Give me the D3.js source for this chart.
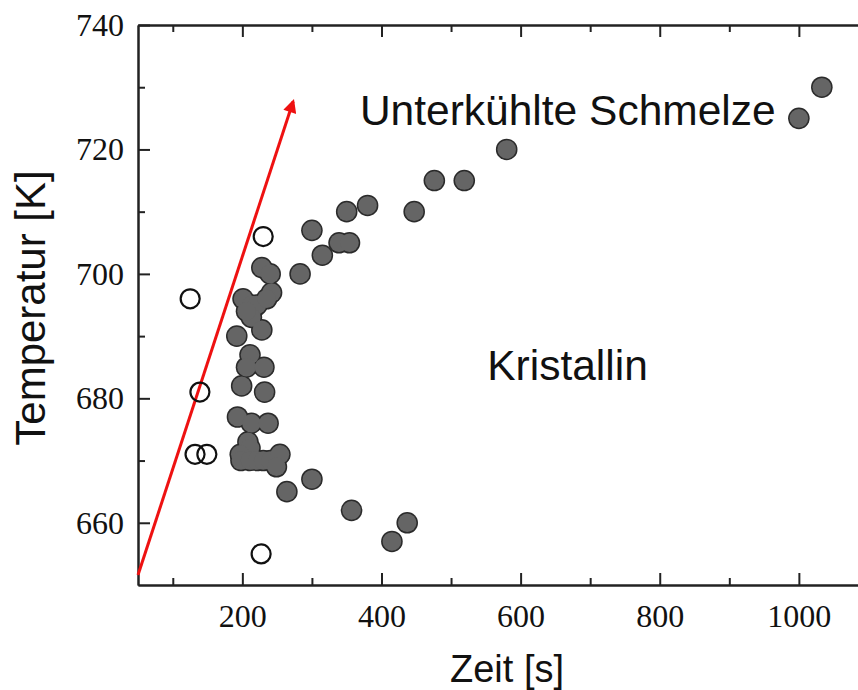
<!DOCTYPE html>
<html>
<head>
<meta charset="utf-8">
<script src="https://cdn.jsdelivr.net/npm/d3@7"></script>
<style>
  body { margin: 0; background: #fff; }
  svg { display: block; }
</style>
</head>
<body>
<div id="chart"></div>
<script>
// Messwerte: Zeit [s], Temperatur [K]
var filled_points = [
    [228,701],[240,700],[242,697],[201,696],[213,695],[221,695],[235,696],[213,693],
    [206,694],[192,690],[228,691],[211,687],[206,685],[231,685],[199,682],[232,681],
    [193,677],[213,676],[237,676],[208,673],[211,672],[197,671],[198,670],[211,670],
    [221,670],[230,670],[240,670],[254,671],[249,669],[264,665],[300,667],[357,662],
    [437,660],[415,657],[283,700],[300,707],[315,703],[339,705],[354,705],[350,710],
    [380,711],[447,710],[476,715],[519,715],[580,720],[1000,725],[1033,730]
];
var open_points = [[230,706],[125,696],[139,681],[132,671],[149,671],[227,655]];

var x_major = [200, 400, 600, 800, 1000];
var x_minor = [100, 300, 500, 700, 900];
var y_major = [660, 680, 700, 720, 740];
var y_minor = [670, 690, 710, 730];

// Pfeil (Start, Spitze) in Datenkoordinaten
var arrow_start = [50, 651.6];
var arrow_end = [273, 727.7];

var labels = [
    {text: "Unterkühlte Schmelze", x: 369, y: 723.9},
    {text: "Kristallin", x: 552, y: 683}
];

var width = 858, height = 690;
var margin = {top: 25, right: 0, bottom: 105, left: 138};

var svg = d3.select("#chart")
    .append("svg")
    .attr("width", width)
    .attr("height", height);

var xScale = d3.scaleLinear()
    .domain([50, 1085])
    .range([margin.left, width - margin.right]);
var yScale = d3.scaleLinear()
    .domain([650, 740])
    .range([height - margin.bottom, margin.top]);

var serif = "'Liberation Serif', 'Times New Roman', serif";
var sans = "'Liberation Sans', Arial, sans-serif";
var fmt = d3.format("d");

// Achsen mit nach innen zeigenden Ticks
function style_axis(g) {
    g.select(".domain").attr("stroke", "#222").attr("stroke-width", 2);
    g.selectAll(".tick line").attr("stroke", "#222").attr("stroke-width", 2);
}

var bottom_y = yScale(650);
svg.append("g")
    .attr("transform", "translate(0," + bottom_y + ")")
    .call(d3.axisBottom(xScale).tickValues(x_major).tickFormat(fmt).tickSize(-12).tickPadding(19).tickSizeOuter(0))
    .call(style_axis)
    .selectAll("text")
    .attr("font-family", serif).attr("font-size", 32).attr("fill", "#111")
    .attr("dy", "0.71em");
svg.append("g")
    .attr("transform", "translate(0," + bottom_y + ")")
    .call(d3.axisBottom(xScale).tickValues(x_minor).tickSize(-7).tickFormat("").tickSizeOuter(0))
    .call(style_axis);

svg.append("g")
    .attr("transform", "translate(0," + yScale(740) + ")")
    .call(d3.axisTop(xScale).tickValues(x_major).tickSize(-12).tickFormat("").tickSizeOuter(0))
    .call(style_axis);
svg.append("g")
    .attr("transform", "translate(0," + yScale(740) + ")")
    .call(d3.axisTop(xScale).tickValues(x_minor).tickSize(-7).tickFormat("").tickSizeOuter(0))
    .call(style_axis);

svg.append("g")
    .attr("transform", "translate(" + xScale(50) + ",0)")
    .call(d3.axisLeft(yScale).tickValues(y_major).tickFormat(fmt).tickSize(-12).tickPadding(14).tickSizeOuter(0))
    .call(style_axis)
    .selectAll("text")
    .attr("font-family", serif).attr("font-size", 32).attr("fill", "#111");
svg.append("g")
    .attr("transform", "translate(" + xScale(50) + ",0)")
    .call(d3.axisLeft(yScale).tickValues(y_minor).tickSize(-7).tickFormat("").tickSizeOuter(0))
    .call(style_axis);

// Achsentitel
svg.append("text")
    .attr("x", 507)
    .attr("y", 682)
    .attr("text-anchor", "middle")
    .attr("font-family", sans)
    .attr("font-size", 38)
    .attr("fill", "#111")
    .text("Zeit [s]");

svg.append("text")
    .attr("transform", "translate(45," + 308 + ") rotate(-90)")
    .attr("text-anchor", "middle")
    .attr("font-family", sans)
    .attr("font-size", 42)
    .attr("fill", "#111")
    .text("Temperatur [K]");

// gefüllte Punkte: erst Rand, dann Füllung -> verschmolzene Umrisse
var pts = svg.append("g");
pts.selectAll(".outline")
    .data(filled_points)
    .enter()
    .append("circle")
    .attr("class", "outline")
    .attr("cx", function(d){ return xScale(d[0]); })
    .attr("cy", function(d){ return yScale(d[1]); })
    .attr("r", 10.8)
    .attr("fill", "#2b2b2b");
pts.selectAll(".fill")
    .data(filled_points)
    .enter()
    .append("circle")
    .attr("class", "fill")
    .attr("cx", function(d){ return xScale(d[0]); })
    .attr("cy", function(d){ return yScale(d[1]); })
    .attr("r", 9.3)
    .attr("fill", "#656565");

// Pfeil
svg.append("defs")
    .append("marker")
    .attr("id", "arrowhead")
    .attr("viewBox", "0 0 10 10")
    .attr("refX", 8)
    .attr("refY", 5)
    .attr("markerWidth", 5.5)
    .attr("markerHeight", 4.5)
    .attr("markerUnits", "strokeWidth")
    .attr("orient", "auto")
    .append("path")
    .attr("d", "M0,0 L10,5 L0,10 Z")
    .attr("fill", "#ee1111");

svg.append("line")
    .attr("x1", xScale(arrow_start[0]))
    .attr("y1", yScale(arrow_start[1]))
    .attr("x2", xScale(arrow_end[0]))
    .attr("y2", yScale(arrow_end[1]))
    .attr("stroke", "#ee1111")
    .attr("stroke-width", 3)
    .attr("marker-end", "url(#arrowhead)");

// offene Punkte
svg.append("g")
    .selectAll("circle")
    .data(open_points)
    .enter()
    .append("circle")
    .attr("cx", function(d){ return xScale(d[0]); })
    .attr("cy", function(d){ return yScale(d[1]); })
    .attr("r", 9.5)
    .attr("fill", "none")
    .attr("stroke", "#111")
    .attr("stroke-width", 2.2);

// Beschriftungen im Diagramm
svg.append("g")
    .selectAll("text")
    .data(labels)
    .enter()
    .append("text")
    .attr("x", function(d){ return xScale(d.x); })
    .attr("y", function(d){ return yScale(d.y); })
    .attr("font-family", sans)
    .attr("font-size", 42.5)
    .attr("fill", "#111")
    .text(function(d){ return d.text; });
</script>
</body>
</html>
